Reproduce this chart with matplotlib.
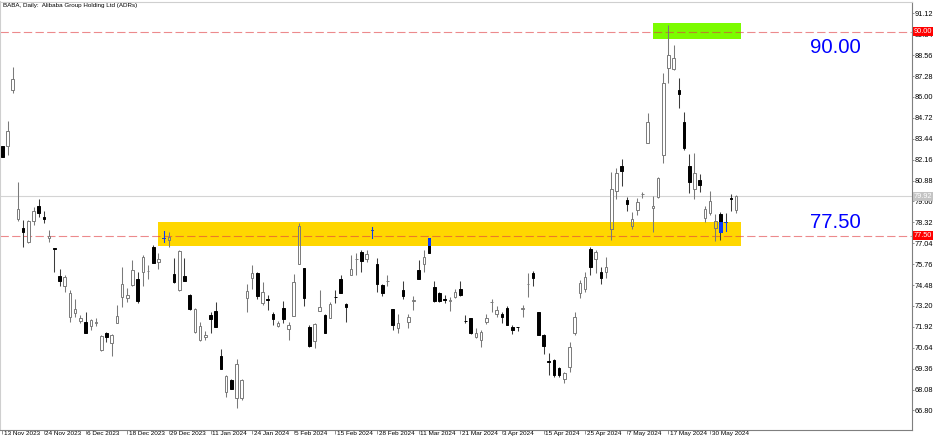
import matplotlib
matplotlib.use('Agg')
import matplotlib.pyplot as plt
from matplotlib.patches import Rectangle
from matplotlib import font_manager
import matplotlib.transforms as mtransforms

_names = {f.name for f in font_manager.fontManager.ttflist}
if 'Liberation Sans Narrow' in _names:
    SMALL, DATE_FS, TITLE_FS = 'Liberation Sans Narrow', 5.0, 5.0
else:
    SMALL, DATE_FS, TITLE_FS = 'Liberation Sans', 4.6, 4.5
BIG = 'Liberation Sans'

# ---------------- data ----------------
opens = [82.99, 82.99, 86.42, 78.50, 77.99, 77.10, 78.42, 79.32, 78.63, 77.38,
         76.73, 75.03, 74.40, 72.54, 72.74, 72.27, 72.22, 71.97, 72.14, 70.50,
         71.54, 70.96, 72.18, 73.73, 73.70, 74.48, 74.84, 75.26, 75.32, 76.78,
         75.87, 77.39, 77.24, 75.16, 74.18, 75.03, 73.87, 71.58, 71.11, 71.28,
         72.67, 72.87, 70.15, 67.95, 68.66, 67.59, 67.59, 73.68, 74.89, 75.23,
         73.36, 73.62, 72.71, 71.99, 73.05, 71.77, 72.58, 75.75, 75.54, 71.93,
         71.06, 72.89, 72.67, 72.44, 73.76, 74.87, 73.34, 75.09, 76.08, 76.50,
         76.10, 77.84, 75.75, 74.48, 74.73, 73.01, 71.86, 74.19, 72.20, 73.52,
         75.40, 75.75, 77.34, 74.36, 74.00, 73.65, 73.52, 73.77, 74.22, 72.29,
         72.44, 71.27, 71.11, 72.23, 73.43, 72.72, 72.69, 73.05, 71.89, 71.90,
         73.04, 74.53, 75.20, 72.81, 71.42, 69.80, 69.89, 69.38, 68.71, 69.48,
         71.56, 74.01, 74.22, 76.67, 76.05, 75.30, 75.30, 77.89, 80.24, 81.79,
         79.69, 78.11, 79.09, 80.04, 83.16, 79.22, 79.87, 82.44, 87.80, 87.68,
         86.42, 84.44, 81.78, 80.34, 80.91, 78.57, 78.87, 78.00, 78.81, 78.32,
         79.78, 79.07]
highs = [83.02, 84.52, 87.85, 80.77, 78.46, 78.46, 79.28, 79.73, 79.03, 77.85,
         76.75, 75.46, 75.09, 74.18, 73.61, 72.66, 72.83, 72.43, 72.44, 71.44,
         71.60, 71.47, 73.26, 75.57, 74.30, 76.01, 75.28, 76.29, 75.71, 76.95,
         76.42, 77.79, 77.75, 76.14, 76.64, 76.14, 73.91, 73.05, 72.20, 71.66,
         72.80, 73.44, 70.54, 69.00, 68.74, 69.94, 68.74, 74.56, 75.71, 75.28,
         74.68, 73.87, 72.81, 72.28, 73.50, 72.23, 75.14, 78.26, 75.54, 72.03,
         72.14, 74.18, 72.70, 73.44, 74.18, 75.09, 73.36, 76.34, 76.44, 76.62,
         76.62, 78.05, 76.12, 74.54, 75.09, 73.01, 72.72, 74.71, 72.72, 73.82,
         76.03, 76.65, 77.36, 74.71, 74.07, 73.90, 73.77, 74.24, 74.73, 72.65,
         72.46, 71.83, 71.73, 72.69, 73.64, 73.18, 72.84, 73.19, 72.03, 71.93,
         73.26, 75.23, 75.34, 72.81, 71.48, 70.30, 69.93, 69.48, 69.17, 71.01,
         72.81, 74.79, 75.30, 76.83, 76.62, 75.60, 76.21, 81.42, 81.63, 82.19,
         79.89, 78.95, 79.84, 80.20, 85.00, 79.96, 81.10, 87.46, 90.40, 89.16,
         87.16, 85.08, 82.49, 82.55, 81.25, 79.35, 80.22, 78.84, 78.97, 78.87,
         80.05, 80.01]
lows = [82.30, 82.44, 86.22, 78.42, 76.79, 77.05, 78.16, 78.66, 78.26, 77.13,
        75.30, 74.44, 74.05, 72.23, 72.54, 72.14, 71.54, 71.73, 71.97, 70.47,
        71.01, 70.15, 72.18, 73.13, 73.46, 74.44, 73.41, 74.40, 74.84, 75.86,
        75.45, 77.13, 76.83, 74.58, 74.12, 74.74, 72.93, 71.52, 71.05, 71.09,
        71.52, 71.88, 69.36, 67.64, 68.11, 66.98, 67.44, 72.85, 74.24, 73.64,
        73.26, 72.95, 72.03, 71.93, 72.13, 71.11, 72.58, 75.75, 73.19, 70.69,
        70.62, 72.86, 71.52, 72.44, 73.38, 74.01, 72.23, 75.09, 75.09, 75.30,
        75.88, 77.34, 74.07, 73.79, 74.40, 71.73, 71.52, 73.62, 71.83, 72.98,
        74.85, 75.26, 76.44, 73.44, 73.46, 73.36, 72.92, 73.67, 73.81, 72.14,
        71.48, 71.22, 70.70, 72.11, 72.82, 72.54, 72.13, 72.03, 71.46, 71.66,
        72.54, 73.77, 74.42, 71.42, 70.26, 68.97, 68.87, 68.87, 68.46, 69.17,
        71.42, 73.67, 74.07, 75.09, 75.23, 74.52, 74.89, 77.24, 79.75, 80.54,
        79.01, 77.91, 78.77, 79.79, 83.16, 77.74, 79.81, 81.93, 86.85, 87.63,
        85.35, 82.75, 80.10, 79.73, 80.20, 78.34, 78.77, 77.19, 77.24, 77.79,
        79.01, 78.92]
closes = [82.34, 83.91, 87.08, 79.12, 77.71, 78.42, 79.03, 78.91, 78.52, 77.50,
          76.69, 74.71, 74.95, 73.97, 73.00, 72.44, 71.56, 72.34, 72.19, 71.36,
          71.32, 71.40, 72.58, 74.53, 73.87, 75.40, 73.52, 76.21, 75.36, 75.86,
          76.07, 77.38, 77.40, 74.68, 76.56, 74.74, 73.03, 73.00, 71.97, 71.42,
          72.40, 71.88, 69.36, 68.90, 68.11, 69.63, 68.64, 74.09, 75.22, 73.82,
          74.03, 73.59, 72.40, 72.13, 72.40, 72.03, 74.65, 78.09, 73.70, 70.72,
          72.07, 73.15, 71.52, 73.30, 73.73, 74.01, 73.12, 75.44, 76.10, 75.96,
          76.37, 77.83, 74.56, 74.02, 74.74, 72.03, 72.15, 73.82, 72.54, 73.54,
          74.85, 76.17, 76.44, 73.48, 73.48, 73.57, 73.54, 74.05, 73.89, 72.26,
          71.52, 71.54, 71.62, 72.47, 73.45, 72.93, 72.52, 72.03, 71.73, 71.88,
          73.06, 74.55, 74.89, 71.42, 70.75, 69.77, 68.97, 68.97, 69.11, 70.70,
          72.54, 74.62, 74.99, 75.60, 76.48, 74.93, 75.60, 80.34, 81.32, 81.49,
          79.42, 78.54, 79.55, 80.07, 84.44, 79.34, 81.02, 86.87, 88.55, 88.36,
          86.16, 82.85, 80.77, 81.37, 80.61, 79.12, 79.64, 78.38, 77.74, 78.31,
          79.75, 79.92]

date_labels = ['13 Nov 2023', '24 Nov 2023', '6 Dec 2023', '18 Dec 2023', '29 Dec 2023',
               '11 Jan 2024', '24 Jan 2024', '5 Feb 2024', '15 Feb 2024', '28 Feb 2024',
               '11 Mar 2024', '21 Mar 2024', '3 Apr 2024', '15 Apr 2024', '25 Apr 2024',
               '7 May 2024', '17 May 2024', '30 May 2024']
label_step = 8

price_ticks = [91.12, 89.84, 88.56, 87.28, 86.00, 84.72, 83.44, 82.16, 80.88, 79.60,
               78.32, 77.04, 75.76, 74.48, 73.20, 71.92, 70.64, 69.36, 68.08, 66.80]

level_high = 90.00
level_low = 77.50
current_price = 79.92

zone_bar_start, zone_bar_end = 30, 142
zone_low, zone_high = 76.87, 78.36
green_bar_start, green_bar_end = 125, 142
green_low, green_high = 89.55, 90.51

title_text = 'BABA, Daily:  Alibaba Group Holding Ltd (ADRs)'

# ---------------- figure ----------------
W, H = 936, 442
fig = plt.figure(figsize=(W / 100, H / 100), dpi=100)
ax = fig.add_axes([0.0, 1 - 430 / H, 912 / W, 428 / H])
ax.set_xlim(-0.45, 174.8)
ax.set_ylim(65.603, 91.812)

YELLOW = '#FFD700'
GREEN = '#7CFC00'
BLUE = '#0A3CFF'
UPEDGE = '#7a7a7a'
DNWICK = '#3c3c3c'

zone = Rectangle((zone_bar_start, zone_low), zone_bar_end - zone_bar_start,
                 zone_high - zone_low, facecolor=YELLOW, edgecolor='none', zorder=1)
ax.add_patch(zone)
green = Rectangle((green_bar_start, green_low), green_bar_end - green_bar_start,
                  green_high - green_low, facecolor=GREEN, edgecolor='none', zorder=1)
ax.add_patch(green)

ax.axhline(current_price, color='#d4d4d4', lw=0.8, zorder=1.5)
for lvl in (level_high, level_low):
    ax.axhline(lvl, color='#e03c40', alpha=0.6, lw=0.8, linestyle=(0, (7.5, 3.0)), zorder=2.5)

bw = 0.5
for i, (o, h, l, c) in enumerate(zip(opens, highs, lows, closes)):
    up = c >= o
    lo_b, hi_b = min(o, c), max(o, c)
    wick_col = UPEDGE if up else DNWICK
    ax.plot([i, i], [l, h], color=wick_col, lw=0.75, zorder=2.8, solid_capstyle='butt')
    if up:
        body = Rectangle((i - bw / 2, lo_b), bw, hi_b - lo_b, facecolor='white',
                         edgecolor=UPEDGE, lw=0.7, zorder=3)
        ov = Rectangle((i - bw / 2, lo_b), bw, hi_b - lo_b, facecolor=YELLOW,
                       edgecolor=UPEDGE, lw=0.7, zorder=3.1)
    else:
        body = Rectangle((i - bw / 2, lo_b), bw, hi_b - lo_b, facecolor='black',
                         edgecolor='black', lw=0.7, zorder=3)
        ov = Rectangle((i - bw / 2, lo_b), bw, hi_b - lo_b, facecolor=BLUE,
                       edgecolor=BLUE, lw=0.7, zorder=3.1)
    ax.add_patch(body)
    if hi_b >= zone_low and lo_b <= zone_high and zone_bar_start - 0.5 <= i <= zone_bar_end:
        ax.add_patch(ov)
        ov.set_clip_path(zone)
        if (hi_b - lo_b) < 0.05 and not up:
            wl, = ax.plot([i, i], [l, h], color=BLUE, lw=0.75, zorder=3.05)
            wl.set_clip_path(zone)

# axes styling
for s in ('left', 'top'):
    ax.spines[s].set_color('#cfcfcf')
ax.spines['left'].set_linewidth(1.5)
ax.spines['top'].set_linewidth(0.8)
for s in ('right', 'bottom'):
    ax.spines[s].set_color('#7f7f7f')
    ax.spines[s].set_linewidth(0.8)

ax.yaxis.tick_right()
ax.set_yticks(price_ticks)
ax.set_yticklabels([f'{p:.2f}' for p in price_ticks], fontsize=5.3, family=SMALL)
ax.tick_params(axis='y', length=1.6, width=0.6, color='#7f7f7f', pad=0.6)

ax.set_xticks(list(range(0, len(closes), label_step))[:len(date_labels)])
ax.set_xticklabels(date_labels, fontsize=DATE_FS, family=SMALL)
ax.tick_params(axis='x', length=3.0, width=0.6, color='#7f7f7f', pad=-2.3)
offset = mtransforms.ScaledTranslation(1.5 / 100, 0, fig.dpi_scale_trans)
for lab in ax.get_xticklabels():
    lab.set_horizontalalignment('left')
    lab.set_transform(lab.get_transform() + offset)

# price tags on the axis
def tag(price, text, fc):
    ax.annotate(text, xy=(1.0, price), xycoords=('axes fraction', 'data'),
                xytext=(1.2, 0), textcoords='offset points', ha='left', va='center',
                fontsize=5.3, family=SMALL, color='white', zorder=10, annotation_clip=False,
                bbox=dict(boxstyle='square,pad=0.12', fc=fc, ec='none'))

tag(current_price, f'{current_price:.2f}', '#c4c4c4')
tag(level_high, f'{level_high:.2f}', '#ff0000')
tag(level_low, f'{level_low:.2f}', '#ff0000')

# big level texts
ax.text(155.2, 88.69, f'{level_high:.2f}', color='#0000ff', fontsize=14.7, family=BIG,
        ha='left', va='baseline', zorder=6)
ax.text(155.2, 77.97, f'{level_low:.2f}', color='#0000ff', fontsize=14.7, family=BIG,
        ha='left', va='baseline', zorder=6)

fig.text(3 / W, 1 - 6 / H, title_text, fontsize=TITLE_FS, family=SMALL, ha='left', va='center')

fig.savefig('out.png', dpi=100)
